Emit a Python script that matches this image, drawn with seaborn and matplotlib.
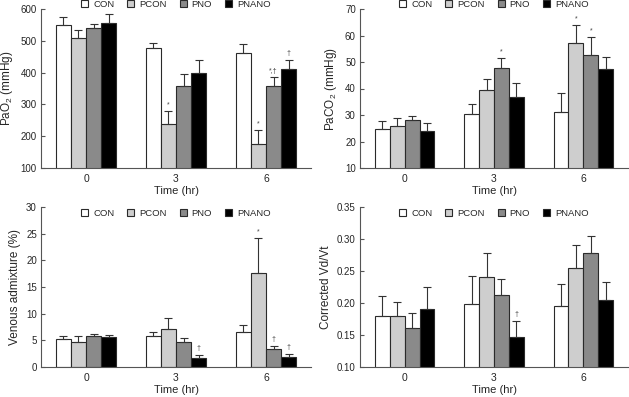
import matplotlib
matplotlib.use('Agg')
import matplotlib.pyplot as plt
import numpy as np
import pandas as pd
import seaborn as sns
from matplotlib.ticker import MultipleLocator, FormatStrFormatter

times = ['0', '3', '6']
groups = ['CON', 'PCON', 'PNO', 'PNANO']
colors = ['#ffffff', '#cecece', '#8a8a8a', '#000000']

# rows = group, cols = time 0/3/6
pao2_mean = [[551, 477, 461], [508, 238, 176], [540, 358, 358], [555, 398, 412]]
pao2_err = [[25, 17, 29], [25, 41, 43], [12, 37, 27], [28, 41, 27]]
pao2_sig = [['', '', ''], ['', '*', '*'], ['', '', '*,†'], ['', '', '†']]

paco2_mean = [[24.7, 30.2, 31.3], [25.8, 39.6, 57.1], [28.2, 47.8, 52.8], [23.8, 36.9, 47.3]]
paco2_err = [[3.1, 4.0, 7.1], [3.1, 4.0, 6.8], [1.4, 3.6, 6.5], [3.3, 5.1, 4.6]]
paco2_sig = [['', '', ''], ['', '', '*'], ['', '*', '*'], ['', '', '']]

venous_mean = [[5.25, 5.8, 6.6], [4.7, 7.05, 17.6], [5.9, 4.75, 3.4], [5.55, 1.75, 1.8]]
venous_err = [[0.65, 0.7, 1.3], [1.2, 2.2, 6.6], [0.35, 0.65, 0.5], [0.5, 0.5, 0.6]]
venous_sig = [['', '', ''], ['', '', '*'], ['', '', '†'], ['', '†', '†']]

vdvt_mean = [[0.180, 0.199, 0.195], [0.180, 0.241, 0.254], [0.161, 0.213, 0.278], [0.191, 0.147, 0.205]]
vdvt_err = [[0.031, 0.043, 0.035], [0.022, 0.037, 0.036], [0.024, 0.025, 0.027], [0.034, 0.025, 0.028]]
vdvt_sig = [['', '', ''], ['', '', ''], ['', '', ''], ['', '†', '']]

sns.set_style('white')
plt.rcParams['font.family'] = ['Liberation Sans', 'DejaVu Sans']
plt.rcParams['mathtext.default'] = 'regular'

fig = plt.figure(figsize=(6.29, 3.97), dpi=100)

panels = [
    (pao2_mean, pao2_err, pao2_sig, 'PaO$_2$ (mmHg)', (100, 600), 100, '%d',
     [41 / 629, 1 - 168 / 397, 270 / 629, 159 / 397], 1.03),
    (paco2_mean, paco2_err, paco2_sig, 'PaCO$_2$ (mmHg)', (10, 70), 10, '%d',
     [360 / 629, 1 - 168 / 397, 268 / 629, 159 / 397], 1.03),
    (venous_mean, venous_err, venous_sig, 'Venous admixture (%)', (0, 30), 5, '%d',
     [41 / 629, 1 - 367 / 397, 270 / 629, 160 / 397], 0.962),
    (vdvt_mean, vdvt_err, vdvt_sig, 'Corrected Vd/Vt', (0.10, 0.35), 0.05, '%.2f',
     [360 / 629, 1 - 367 / 397, 268 / 629, 160 / 397], 0.962),
]

edge = '#2a2a2a'
for mean, err, sig, ylab, ylim, step, fmt, pos, leg_y in panels:
    ax = fig.add_axes(pos)
    rows = []
    for gi, g in enumerate(groups):
        for ti, t in enumerate(times):
            rows.append({'time': t, 'group': g, 'value': mean[gi][ti]})
    df = pd.DataFrame(rows)
    sns.barplot(data=df, x='time', y='value', hue='group', hue_order=groups,
                order=times, palette=colors, width=0.667, edgecolor=edge,
                linewidth=0.8, errorbar=None, legend=False, ax=ax)

    bar_conts = list(ax.containers)
    for gi, cont in enumerate(bar_conts):
        for bar in cont:
            xc = bar.get_x() + bar.get_width() / 2
            ti = int(round(xc))
            h = bar.get_height()
            e = err[gi][ti]
            ax.errorbar(xc, h, yerr=[[0], [e]], fmt='none', ecolor='#333333',
                        elinewidth=0.8, capsize=2.8, capthick=0.8, zorder=3)
            if sig[gi][ti]:
                ax.annotate(sig[gi][ti], (xc, h + e), xytext=(0, 2),
                            textcoords='offset points', ha='center', va='bottom',
                            fontsize=5, color='#444444')

    ax.set_ylim(*ylim)
    ax.set_xlim(-0.5, 2.5)
    ax.yaxis.set_major_locator(MultipleLocator(step))
    ax.yaxis.set_major_formatter(FormatStrFormatter(fmt))
    ax.set_xticks([0.5, 1.5, 2.5], minor=True)
    ax.tick_params(axis='x', which='major', length=0, labelsize=7.5, pad=4)
    ax.tick_params(axis='x', which='minor', direction='in', length=3,
                   width=0.8, color='#555555')
    ax.tick_params(axis='y', direction='in', length=3, width=0.8,
                   color='#555555', labelsize=7, pad=3, left=True)
    sns.despine(ax=ax)
    for s in ['left', 'bottom']:
        ax.spines[s].set_color('#555555')
        ax.spines[s].set_linewidth(0.8)
    ax.set_xlabel('Time (hr)', fontsize=8, labelpad=1.5)
    ax.set_ylabel(ylab, fontsize=8.5, labelpad=4)

    ax.legend(bar_conts, groups, ncol=4, loc='center',
              bbox_to_anchor=(0.5, leg_y), frameon=False, fontsize=6.8,
              handlelength=0.75, handleheight=0.75, handletextpad=0.5,
              columnspacing=1.4, borderpad=0, borderaxespad=0)

fig.savefig('out.png', dpi=100)
